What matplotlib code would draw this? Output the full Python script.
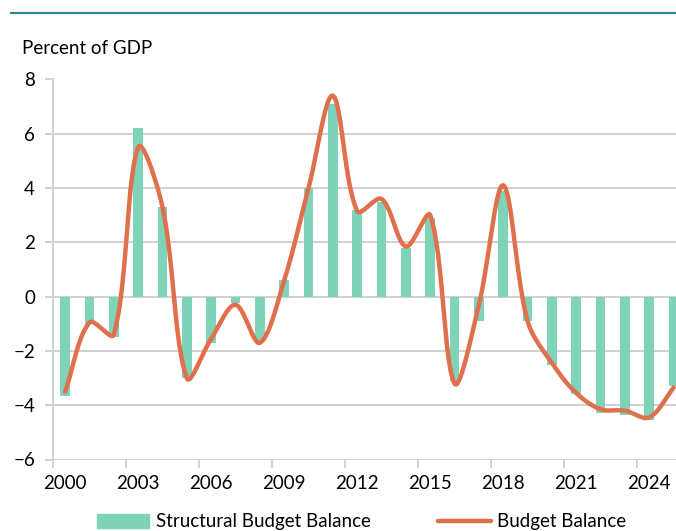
import numpy as np
import matplotlib
matplotlib.use('Agg')
import matplotlib.pyplot as plt
from matplotlib.lines import Line2D

plt.rc('font', family=['Lato', 'DejaVu Sans'], size=13.5)

years = list(range(2000, 2026))
structural = [-3.65, -1.0, -1.5, 6.2, 3.3, -3.0, -1.7, -0.25, -1.6, 0.6,
              4.0, 7.1, 3.2, 3.5, 1.8, 2.9, -3.1, -0.9, 3.9, -0.9,
              -2.5, -3.6, -4.3, -4.35, -4.55, -3.3]
budget = [-3.5, -0.95, -1.4, 5.5, 3.3, -3.0, -1.55, -0.3, -1.7, 0.6,
          4.0, 7.4, 3.15, 3.6, 1.85, 3.0, -3.2, -0.3, 4.1, -0.9,
          -2.45, -3.55, -4.15, -4.2, -4.45, -3.35]
label_years = years[::3]

BAR_COL = '#7fd3b8'
LINE_COL = '#e0704c'
GRID_COL = '#d0d0d0'


def smooth(ax, xs, ys, n=40):
    # Excel style smoothed line: bezier segments, control arms weighted
    # by the on-screen length of the neighbouring segments
    pts = ax.transData.transform(np.column_stack([xs, ys]))
    P = np.vstack([pts[0], pts, pts[-1]])
    L = np.hypot(*np.diff(P, axis=0).T)
    t = np.linspace(0, 1, n)[:, None]
    out = []
    for i in range(1, len(P) - 2):
        p0, p3 = P[i], P[i + 1]
        l0, l1, l2 = L[i - 1], L[i], L[i + 1]
        p1 = p0 + (P[i + 1] - P[i - 1]) * l1 / (l0 + l1) / 3
        p2 = p3 - (P[i + 2] - P[i]) * l1 / (l1 + l2) / 3
        seg = ((1 - t) ** 3 * p0 + 3 * (1 - t) ** 2 * t * p1
               + 3 * (1 - t) * t ** 2 * p2 + t ** 3 * p3)
        out.append(seg)
    out = ax.transData.inverted().transform(np.vstack(out))
    return out[:, 0], out[:, 1]


fig = plt.figure(figsize=(6.76, 5.31), dpi=100)

# teal rule at the top
fig.add_artist(Line2D([11 / 676, 1.0], [1 - 13 / 531, 1 - 13 / 531],
                      color='#2a8a98', lw=1.6))

ax = fig.add_axes([53 / 676, 71.5 / 531, 623 / 676, 380 / 531])
ax.set_xlim(-0.5, 25.1)
ax.set_ylim(-6, 8)

pos = np.arange(len(years))
ax.bar(pos, structural, width=0.39, color=BAR_COL, zorder=2)
sx, sy = smooth(ax, pos, budget)
ax.plot(sx, sy, color=LINE_COL, lw=3.2, solid_capstyle='round', zorder=3)

ax.set_yticks(range(-6, 9, 2))
ax.yaxis.grid(True, color=GRID_COL, lw=1.4)
ax.set_axisbelow(True)

# tick marks sit between categories, labels on the category centres
ax.set_xticks(np.arange(-0.5, 25, 3))
ax.set_xticklabels([])
ax.set_xticks([years.index(y) for y in label_years], minor=True)
ax.set_xticklabels([str(y) for y in label_years], minor=True)
ax.tick_params(axis='x', which='major', length=6, width=1.4, color=GRID_COL)
ax.tick_params(axis='x', which='minor', length=0, pad=11)
ax.tick_params(axis='y', length=6, width=1.4, color=GRID_COL, pad=7)

for s in ['top', 'right', 'bottom']:
    ax.spines[s].set_visible(False)
ax.spines['left'].set_color(GRID_COL)
ax.spines['left'].set_linewidth(1.4)

fig.text(22 / 676, 1 - 48 / 531, 'Percent of GDP', va='center')

handles = [plt.Rectangle((0, 0), 1, 1, color=BAR_COL),
           Line2D([], [], color=LINE_COL, lw=3.2, solid_capstyle='round')]
fig.legend(handles, ['Structural Budget Balance', 'Budget Balance'],
           loc='center', bbox_to_anchor=(0.535, 1 - 522 / 531), ncol=2,
           frameon=False, handlelength=2.8, handleheight=0.8,
           handletextpad=0.35, columnspacing=3.6)

plt.savefig('out.png', dpi=100)
